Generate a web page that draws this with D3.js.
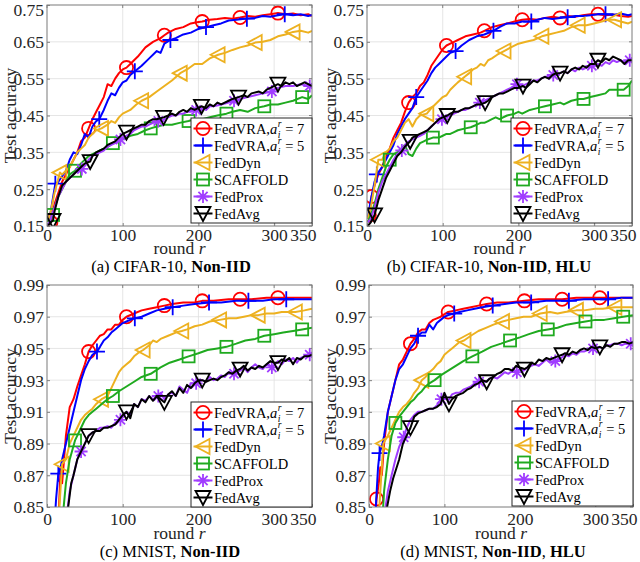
<!DOCTYPE html>
<html><head><meta charset="utf-8">
<script src="https://cdn.jsdelivr.net/npm/d3@7"></script>
<style>
body{margin:0;background:#fff}
svg{display:block}
svg text{font-family:"Liberation Serif","Times New Roman",serif}
</style>
</head><body>
<svg id="chart" width="640" height="562" font-family="Liberation Serif, Times New Roman, serif"></svg>
<script>
// ---------------- DATA ----------------
const seriesLabels = ["FedVRA7", "FedVRA5", "FedDyn", "SCAFFOLD", "FedProx", "FedAvg"];
const xTicks = [0, 100, 200, 300, 350];
const yTicksCifar = [0.15, 0.25, 0.35, 0.45, 0.55, 0.65, 0.75];
const yTicksMnist = [0.85, 0.87, 0.89, 0.91, 0.93, 0.95, 0.97, 0.99];
const captions = [
  ["(a) CIFAR-10, ", "Non-IID", ""],
  ["(b) CIFAR-10, ", "Non-IID", ", ", "HLU"],
  ["(c) MNIST, ", "Non-IID", ""],
  ["(d) MNIST, ", "Non-IID", ", ", "HLU"]
];

// (a) CIFAR-10 Non-IID : [round, accuracy]
const a_vra7 = [[1,0.15],[5,0.16],[10,0.21],[15,0.24],[20,0.27],[25,0.29],[30,0.31],[35,0.33],[40,0.35],[45,0.38],[50,0.39],[55,0.415],[60,0.44],[65,0.46],[70,0.48],[75,0.50],[80,0.535],[85,0.53],[90,0.55],[95,0.565],[100,0.575],[105,0.58],[110,0.59],[120,0.61],[130,0.635],[140,0.65],[150,0.66],[155,0.668],[160,0.675],[170,0.685],[180,0.69],[190,0.70],[198,0.703],[205,0.705],[215,0.71],[225,0.712],[235,0.715],[245,0.713],[255,0.716],[265,0.72],[275,0.718],[285,0.722],[295,0.725],[305,0.728],[315,0.725],[325,0.727],[335,0.722],[345,0.725],[350,0.72]];
const a_vra5 = [[1,0.16],[5,0.19],[11,0.265],[15,0.27],[20,0.285],[25,0.30],[30,0.33],[35,0.35],[40,0.345],[45,0.37],[50,0.40],[55,0.39],[60,0.42],[65,0.435],[69,0.44],[75,0.465],[80,0.49],[85,0.51],[90,0.505],[95,0.525],[100,0.54],[105,0.545],[110,0.56],[116,0.57],[125,0.585],[135,0.605],[145,0.625],[150,0.62],[155,0.645],[163,0.655],[170,0.66],[180,0.67],[190,0.675],[200,0.685],[210,0.69],[220,0.695],[230,0.70],[240,0.708],[250,0.71],[264,0.713],[275,0.715],[285,0.72],[295,0.718],[305,0.722],[314,0.725],[325,0.722],[335,0.725],[345,0.72],[350,0.723]];
const a_dyn = [[1,0.16],[5,0.19],[10,0.24],[17,0.295],[20,0.29],[25,0.30],[30,0.31],[35,0.33],[40,0.35],[45,0.36],[50,0.37],[55,0.39],[60,0.40],[65,0.41],[72,0.415],[80,0.425],[85,0.435],[90,0.43],[95,0.445],[100,0.455],[110,0.465],[118,0.48],[125,0.49],[135,0.50],[145,0.515],[155,0.53],[165,0.545],[176,0.565],[185,0.575],[195,0.59],[205,0.59],[215,0.605],[226,0.615],[235,0.62],[245,0.628],[255,0.635],[265,0.64],[275,0.648],[285,0.65],[295,0.655],[305,0.665],[315,0.67],[325,0.677],[335,0.68],[345,0.675],[350,0.68]];
const a_scaf = [[1,0.15],[5,0.17],[8,0.18],[10,0.20],[15,0.23],[20,0.25],[25,0.27],[30,0.29],[37,0.30],[45,0.32],[50,0.33],[55,0.34],[60,0.345],[65,0.35],[70,0.355],[80,0.365],[87,0.375],[95,0.38],[100,0.385],[110,0.395],[120,0.40],[130,0.41],[137,0.415],[145,0.42],[155,0.425],[165,0.425],[175,0.43],[187,0.435],[195,0.44],[205,0.44],[215,0.445],[225,0.45],[237,0.455],[245,0.46],[255,0.465],[265,0.46],[275,0.47],[287,0.475],[295,0.48],[305,0.48],[315,0.485],[325,0.49],[337,0.50],[345,0.495],[350,0.505]];
const a_prox = [[1,0.15],[5,0.17],[10,0.20],[15,0.23],[20,0.25],[25,0.27],[30,0.28],[35,0.29],[40,0.30],[46,0.305],[50,0.315],[55,0.33],[60,0.34],[65,0.345],[70,0.35],[75,0.355],[80,0.365],[85,0.37],[90,0.375],[97,0.385],[105,0.395],[110,0.40],[115,0.41],[120,0.415],[125,0.42],[130,0.42],[135,0.425],[140,0.43],[147,0.435],[155,0.44],[160,0.445],[165,0.45],[170,0.45],[175,0.455],[180,0.455],[185,0.46],[190,0.46],[197,0.465],[205,0.47],[210,0.465],[215,0.475],[220,0.475],[230,0.48],[240,0.485],[247,0.49],[255,0.495],[265,0.50],[275,0.505],[285,0.51],[297,0.515],[305,0.525],[315,0.53],[325,0.53],[335,0.535],[347,0.53],[350,0.53]];
const a_avg = [[1,0.15],[5,0.16],[8,0.165],[10,0.19],[15,0.23],[20,0.26],[25,0.27],[30,0.28],[35,0.29],[40,0.30],[45,0.31],[50,0.32],[57,0.325],[60,0.34],[65,0.35],[70,0.355],[75,0.36],[80,0.37],[85,0.375],[90,0.38],[95,0.39],[100,0.40],[105,0.405],[110,0.41],[115,0.415],[120,0.42],[125,0.425],[130,0.425],[135,0.435],[140,0.44],[145,0.44],[154,0.445],[160,0.45],[165,0.455],[170,0.45],[175,0.46],[180,0.465],[185,0.46],[190,0.47],[195,0.465],[204,0.475],[210,0.47],[215,0.48],[220,0.475],[225,0.485],[230,0.48],[240,0.49],[245,0.495],[253,0.50],[260,0.505],[265,0.50],[270,0.51],[280,0.515],[285,0.51],[290,0.52],[295,0.525],[305,0.535],[310,0.53],[315,0.54],[320,0.535],[325,0.54],[330,0.53],[340,0.54],[345,0.535],[350,0.53]];
const a_marks = [[5,55,105,155,205,255,305],[11,69,116,163,210,264,314],[17,72,125,176,226,275,325],[8,37,87,137,187,237,287,337],[46,97,147,197,247,297,347],[8,57,105,154,204,253,305]];

// (b) CIFAR-10 Non-IID, HLU
const b_vra7 = [[1,0.17],[3,0.18],[6,0.23],[10,0.26],[15,0.29],[20,0.31],[25,0.34],[30,0.36],[35,0.39],[40,0.41],[45,0.43],[50,0.46],[55,0.485],[60,0.50],[65,0.51],[70,0.53],[75,0.54],[80,0.56],[85,0.585],[90,0.60],[95,0.615],[100,0.63],[105,0.64],[110,0.645],[115,0.65],[120,0.655],[130,0.665],[140,0.67],[150,0.675],[155,0.68],[165,0.69],[175,0.695],[185,0.70],[195,0.705],[205,0.71],[215,0.712],[225,0.71],[235,0.715],[245,0.718],[255,0.715],[265,0.72],[275,0.718],[285,0.722],[295,0.725],[305,0.725],[315,0.722],[325,0.724],[335,0.72],[345,0.718],[350,0.72]];
const b_vra5 = [[1,0.17],[5,0.22],[10,0.27],[13,0.29],[20,0.31],[25,0.33],[30,0.35],[35,0.37],[40,0.40],[45,0.42],[50,0.44],[55,0.455],[60,0.47],[65,0.50],[70,0.515],[75,0.53],[80,0.545],[85,0.565],[90,0.58],[95,0.59],[100,0.60],[105,0.61],[110,0.62],[117,0.625],[125,0.64],[135,0.655],[145,0.665],[155,0.67],[167,0.68],[175,0.69],[185,0.70],[195,0.70],[205,0.705],[217,0.705],[225,0.71],[235,0.715],[245,0.712],[255,0.715],[265,0.717],[275,0.72],[285,0.72],[295,0.722],[305,0.725],[315,0.725],[325,0.723],[335,0.727],[345,0.722],[350,0.725]];
const b_dyn = [[1,0.17],[5,0.20],[10,0.26],[15,0.33],[20,0.33],[25,0.35],[30,0.36],[35,0.38],[40,0.39],[45,0.41],[50,0.43],[55,0.44],[60,0.42],[65,0.44],[70,0.45],[79,0.455],[85,0.47],[90,0.48],[95,0.49],[100,0.50],[105,0.505],[110,0.52],[115,0.53],[120,0.54],[129,0.555],[135,0.565],[140,0.575],[145,0.58],[150,0.59],[155,0.585],[160,0.60],[165,0.605],[172,0.615],[181,0.625],[190,0.635],[200,0.645],[210,0.65],[220,0.655],[231,0.665],[240,0.67],[250,0.675],[260,0.68],[270,0.69],[279,0.695],[290,0.695],[300,0.70],[310,0.705],[318,0.71],[327,0.71],[335,0.705],[345,0.70],[350,0.705]];
const b_scaf = [[1,0.16],[5,0.18],[10,0.21],[15,0.25],[20,0.28],[25,0.31],[30,0.33],[35,0.345],[40,0.35],[45,0.36],[50,0.37],[55,0.345],[60,0.34],[65,0.36],[70,0.375],[75,0.38],[80,0.385],[87,0.39],[95,0.39],[100,0.395],[105,0.40],[110,0.40],[115,0.405],[120,0.41],[130,0.415],[137,0.418],[145,0.425],[150,0.43],[155,0.43],[160,0.435],[165,0.44],[170,0.445],[175,0.44],[185,0.45],[195,0.455],[200,0.46],[205,0.455],[215,0.465],[225,0.47],[235,0.475],[245,0.48],[255,0.485],[260,0.48],[270,0.49],[280,0.495],[286,0.495],[295,0.50],[305,0.505],[315,0.51],[320,0.52],[330,0.52],[339,0.52],[345,0.53],[350,0.545]];
const b_prox = [[1,0.16],[5,0.17],[10,0.20],[15,0.24],[20,0.27],[25,0.29],[30,0.31],[35,0.33],[40,0.345],[46,0.355],[50,0.37],[55,0.38],[60,0.385],[65,0.39],[70,0.395],[75,0.40],[80,0.41],[85,0.42],[90,0.43],[99,0.44],[105,0.445],[110,0.45],[115,0.455],[120,0.46],[125,0.465],[130,0.465],[135,0.47],[140,0.475],[149,0.485],[155,0.49],[160,0.495],[165,0.50],[170,0.505],[175,0.51],[180,0.515],[185,0.52],[190,0.525],[198,0.535],[205,0.53],[210,0.535],[215,0.54],[220,0.545],[225,0.545],[230,0.55],[235,0.555],[240,0.555],[246,0.56],[255,0.565],[260,0.57],[265,0.565],[270,0.575],[275,0.57],[280,0.58],[285,0.575],[290,0.58],[297,0.585],[305,0.59],[310,0.585],[315,0.595],[320,0.59],[325,0.60],[330,0.595],[335,0.60],[340,0.595],[347,0.60],[350,0.60]];
const b_avg = [[1,0.15],[5,0.16],[10,0.18],[15,0.22],[20,0.25],[25,0.28],[30,0.30],[35,0.32],[40,0.34],[45,0.35],[50,0.365],[57,0.38],[60,0.39],[65,0.395],[70,0.40],[75,0.405],[80,0.41],[85,0.42],[90,0.43],[95,0.44],[100,0.445],[106,0.45],[110,0.455],[115,0.46],[120,0.46],[125,0.465],[130,0.47],[135,0.47],[140,0.475],[145,0.48],[150,0.48],[156,0.485],[160,0.49],[165,0.50],[170,0.505],[175,0.51],[180,0.51],[185,0.515],[190,0.52],[195,0.525],[200,0.525],[206,0.53],[210,0.525],[215,0.535],[220,0.545],[225,0.54],[230,0.55],[235,0.555],[240,0.55],[245,0.56],[250,0.565],[255,0.565],[260,0.57],[265,0.565],[270,0.575],[275,0.58],[280,0.575],[285,0.585],[290,0.58],[295,0.59],[300,0.59],[305,0.60],[310,0.595],[315,0.605],[320,0.60],[325,0.61],[330,0.605],[335,0.60],[340,0.59],[345,0.60],[350,0.60]];
const b_marks = [[3,6,55,105,155,205,255,305],[13,65,117,167,217,265,315],[15,79,129,181,231,279,327],[30,87,137,185,235,286,339],[46,99,149,198,246,297,347],[10,57,106,156,206,255,305]];

// (c) MNIST Non-IID
const c_vra7 = [[5,0.80],[10,0.82],[15,0.84],[18,0.875],[20,0.865],[25,0.895],[30,0.913],[35,0.918],[40,0.926],[45,0.933],[50,0.94],[55,0.948],[60,0.952],[65,0.955],[70,0.958],[75,0.959],[80,0.962],[85,0.962],[90,0.965],[95,0.965],[100,0.968],[105,0.970],[115,0.972],[125,0.974],[135,0.975],[145,0.976],[155,0.977],[165,0.978],[180,0.979],[195,0.979],[205,0.980],[220,0.980],[240,0.981],[255,0.981],[270,0.981],[290,0.982],[305,0.982],[325,0.982],[350,0.982]];
const c_vra5 = [[5,0.80],[10,0.84],[12,0.855],[15,0.871],[18,0.875],[20,0.88],[25,0.89],[30,0.90],[35,0.91],[40,0.92],[45,0.93],[50,0.937],[55,0.942],[60,0.946],[66,0.948],[70,0.951],[75,0.955],[80,0.957],[85,0.96],[90,0.962],[95,0.964],[100,0.966],[105,0.967],[110,0.968],[116,0.969],[125,0.970],[135,0.972],[145,0.974],[155,0.975],[166,0.976],[180,0.977],[195,0.978],[214,0.979],[230,0.979],[250,0.980],[266,0.980],[285,0.980],[300,0.981],[316,0.981],[335,0.981],[350,0.981]];
const c_dyn = [[10,0.80],[15,0.84],[20,0.877],[25,0.88],[30,0.89],[35,0.895],[40,0.90],[45,0.905],[50,0.908],[55,0.91],[60,0.912],[65,0.915],[72,0.918],[80,0.92],[85,0.925],[90,0.93],[95,0.935],[100,0.938],[105,0.94],[110,0.942],[115,0.945],[120,0.947],[127,0.949],[135,0.952],[140,0.955],[145,0.954],[150,0.956],[160,0.958],[170,0.96],[178,0.961],[185,0.962],[195,0.964],[205,0.965],[215,0.967],[228,0.968],[240,0.969],[250,0.969],[260,0.970],[270,0.971],[279,0.971],[290,0.972],[300,0.972],[310,0.973],[320,0.973],[328,0.973],[340,0.974],[350,0.975]];
const c_scaf = [[15,0.80],[20,0.84],[25,0.865],[30,0.88],[37,0.892],[45,0.90],[50,0.905],[55,0.908],[60,0.91],[65,0.912],[70,0.914],[75,0.916],[80,0.918],[87,0.92],[95,0.923],[105,0.926],[115,0.929],[125,0.932],[137,0.934],[150,0.938],[162,0.941],[175,0.943],[187,0.945],[200,0.947],[212,0.949],[225,0.950],[237,0.951],[250,0.953],[262,0.955],[275,0.956],[287,0.958],[300,0.959],[312,0.960],[325,0.961],[337,0.962],[350,0.963]];
const c_prox = [[20,0.80],[25,0.84],[30,0.86],[35,0.87],[40,0.88],[45,0.885],[50,0.89],[55,0.895],[60,0.897],[65,0.898],[70,0.90],[75,0.90],[80,0.901],[85,0.90],[90,0.903],[97,0.905],[100,0.907],[105,0.91],[110,0.908],[115,0.915],[120,0.913],[125,0.918],[130,0.917],[135,0.92],[140,0.918],[147,0.92],[150,0.922],[155,0.918],[160,0.921],[165,0.922],[170,0.92],[175,0.926],[180,0.924],[185,0.922],[190,0.928],[197,0.928],[205,0.93],[210,0.929],[215,0.932],[220,0.93],[225,0.931],[230,0.933],[235,0.932],[240,0.935],[247,0.934],[255,0.936],[260,0.938],[265,0.935],[270,0.938],[275,0.94],[280,0.938],[285,0.937],[290,0.94],[297,0.938],[305,0.942],[310,0.94],[315,0.943],[320,0.942],[325,0.944],[330,0.941],[335,0.944],[340,0.945],[347,0.946],[350,0.947]];
const c_avg = [[25,0.80],[28,0.85],[32,0.865],[35,0.87],[40,0.88],[45,0.885],[50,0.89],[55,0.895],[60,0.897],[65,0.898],[70,0.898],[75,0.90],[80,0.90],[85,0.901],[90,0.902],[95,0.905],[100,0.908],[105,0.91],[110,0.906],[115,0.915],[120,0.913],[125,0.918],[130,0.916],[135,0.92],[140,0.917],[145,0.92],[150,0.918],[155,0.916],[160,0.921],[165,0.923],[170,0.92],[175,0.925],[180,0.922],[185,0.927],[190,0.925],[195,0.928],[200,0.93],[205,0.93],[210,0.929],[215,0.93],[220,0.931],[225,0.93],[230,0.932],[235,0.933],[240,0.935],[245,0.934],[250,0.936],[255,0.937],[260,0.939],[265,0.936],[270,0.938],[275,0.937],[280,0.939],[285,0.938],[290,0.94],[295,0.942],[300,0.941],[305,0.941],[310,0.943],[315,0.942],[320,0.944],[325,0.94],[330,0.944],[335,0.943],[340,0.945],[345,0.945],[350,0.946]];
const c_marks = [[5,55,105,155,205,255,305],[15,66,116,166,214,266,316],[20,72,127,178,228,279,328],[37,87,137,187,237,287,337],[45,97,147,197,247,297,347],[55,105,155,205,255,305]];

// (d) MNIST Non-IID, HLU
const d_vra7 = [[5,0.80],[8,0.84],[10,0.855],[13,0.865],[15,0.875],[17,0.87],[20,0.89],[25,0.91],[30,0.92],[35,0.93],[40,0.94],[45,0.943],[50,0.948],[55,0.953],[60,0.956],[65,0.96],[70,0.962],[75,0.962],[80,0.966],[85,0.968],[90,0.969],[95,0.97],[105,0.973],[115,0.974],[125,0.975],[135,0.976],[145,0.977],[156,0.978],[170,0.979],[185,0.979],[206,0.980],[225,0.981],[240,0.981],[256,0.981],[275,0.982],[290,0.982],[306,0.982],[325,0.982],[340,0.982],[350,0.982]];
const d_vra5 = [[5,0.80],[9,0.85],[12,0.875],[14,0.884],[18,0.89],[20,0.895],[25,0.91],[30,0.92],[35,0.93],[40,0.937],[45,0.94],[50,0.945],[55,0.95],[60,0.953],[65,0.958],[70,0.96],[75,0.96],[80,0.965],[85,0.962],[90,0.966],[95,0.968],[100,0.97],[105,0.971],[113,0.972],[120,0.973],[130,0.974],[140,0.975],[150,0.976],[164,0.977],[180,0.978],[195,0.979],[215,0.979],[235,0.980],[250,0.980],[265,0.980],[285,0.981],[300,0.981],[317,0.981],[335,0.982],[350,0.982]];
const d_dyn = [[10,0.82],[15,0.86],[19,0.89],[25,0.895],[30,0.90],[35,0.905],[40,0.91],[45,0.913],[50,0.915],[55,0.918],[60,0.922],[65,0.925],[70,0.93],[75,0.932],[80,0.935],[85,0.937],[90,0.94],[95,0.942],[100,0.946],[105,0.948],[110,0.95],[115,0.952],[120,0.954],[126,0.955],[135,0.958],[145,0.961],[155,0.963],[165,0.965],[177,0.967],[185,0.968],[195,0.969],[205,0.97],[215,0.97],[227,0.972],[240,0.973],[250,0.972],[260,0.973],[275,0.974],[285,0.974],[300,0.975],[310,0.975],[326,0.976],[340,0.976],[350,0.976]];
const d_scaf = [[15,0.82],[20,0.86],[25,0.88],[30,0.895],[35,0.903],[40,0.907],[45,0.91],[50,0.913],[55,0.916],[60,0.918],[65,0.921],[70,0.923],[75,0.926],[80,0.928],[87,0.93],[95,0.933],[105,0.936],[115,0.939],[125,0.942],[137,0.945],[150,0.948],[162,0.951],[175,0.953],[187,0.955],[200,0.957],[212,0.959],[225,0.961],[237,0.962],[250,0.963],[262,0.965],[275,0.966],[287,0.967],[300,0.968],[312,0.968],[325,0.969],[337,0.97],[350,0.971]];
const d_prox = [[18,0.80],[22,0.85],[25,0.86],[30,0.87],[35,0.88],[40,0.888],[46,0.894],[50,0.90],[55,0.905],[60,0.908],[65,0.91],[70,0.91],[75,0.911],[80,0.912],[85,0.912],[90,0.914],[96,0.918],[100,0.919],[105,0.917],[110,0.921],[115,0.922],[120,0.922],[125,0.924],[130,0.925],[135,0.926],[140,0.928],[146,0.929],[150,0.93],[155,0.929],[160,0.931],[165,0.932],[170,0.931],[175,0.933],[180,0.935],[185,0.934],[190,0.936],[196,0.935],[200,0.937],[205,0.936],[210,0.938],[215,0.939],[220,0.94],[225,0.939],[230,0.941],[235,0.943],[240,0.941],[247,0.942],[255,0.944],[260,0.946],[265,0.945],[270,0.947],[275,0.946],[280,0.948],[285,0.948],[290,0.949],[297,0.95],[305,0.951],[310,0.95],[315,0.952],[320,0.952],[325,0.953],[330,0.953],[335,0.952],[340,0.953],[347,0.953],[350,0.954]];
const d_avg = [[20,0.80],[24,0.85],[28,0.86],[32,0.868],[36,0.874],[40,0.88],[45,0.89],[50,0.895],[55,0.90],[60,0.907],[65,0.909],[70,0.91],[75,0.911],[80,0.912],[85,0.912],[90,0.913],[95,0.915],[100,0.922],[106,0.915],[110,0.918],[115,0.92],[120,0.921],[125,0.922],[130,0.924],[135,0.925],[140,0.927],[145,0.928],[150,0.93],[156,0.929],[160,0.931],[165,0.932],[170,0.934],[175,0.935],[180,0.937],[185,0.937],[190,0.936],[195,0.939],[200,0.938],[206,0.937],[210,0.938],[215,0.941],[220,0.94],[225,0.943],[230,0.942],[235,0.944],[240,0.943],[245,0.944],[250,0.945],[256,0.946],[260,0.947],[265,0.946],[270,0.948],[275,0.947],[280,0.949],[285,0.95],[290,0.949],[295,0.951],[300,0.95],[306,0.951],[310,0.95],[315,0.952],[320,0.951],[325,0.953],[330,0.953],[335,0.954],[340,0.954],[345,0.953],[350,0.954]];
const d_marks = [[10,55,105,156,206,256,306],[14,65,113,164,215,265,317],[19,70,126,177,227,275,326],[35,87,137,187,237,287,337],[46,96,146,196,247,297,347],[55,106,156,206,256,306]];

// ---------------- STYLE / LAYOUT ----------------
const colors = ["#ff0000", "#0000ff", "#edb120", "#1faa1f", "#a03cff", "#000000"];
const symbols = ["circle", "plus", "tleft", "square", "star", "tdown"];
const FONT = 'Liberation Serif, Times New Roman, serif';

const panels = [
  {series:[a_vra7,a_vra5,a_dyn,a_scaf,a_prox,a_avg], marks:a_marks, yticks:yTicksCifar, ydom:[0.15,0.75],
   L:47, R:312, T:5, B:226, ylabX:16, tickBase:241, xlabBase:254, capBase:272, capX:171, leg:[191,118]},
  {series:[b_vra7,b_vra5,b_dyn,b_scaf,b_prox,b_avg], marks:b_marks, yticks:yTicksCifar, ydom:[0.15,0.75],
   L:367, R:632, T:5, B:226, ylabX:336, tickBase:241, xlabBase:254, capBase:272, capX:489, leg:[511,118]},
  {series:[c_vra7,c_vra5,c_dyn,c_scaf,c_prox,c_avg], marks:c_marks, yticks:yTicksMnist, ydom:[0.85,0.99],
   L:47, R:312, T:285, B:507, ylabX:16, tickBase:525, xlabBase:539, capBase:557, capX:170, leg:[191,402]},
  {series:[d_vra7,d_vra5,d_dyn,d_scaf,d_prox,d_avg], marks:d_marks, yticks:yTicksMnist, ydom:[0.85,0.99],
   L:369, R:633, T:285, B:507, ylabX:336, tickBase:525, xlabBase:539, capBase:557, capX:493, leg:[512,401]}
];

const svg = d3.select("#chart");
svg.append("rect").attr("width",640).attr("height",562).attr("fill","#fff");

function txt(sel, size) {
  return sel.append("text").attr("font-family",FONT).attr("font-size",size);
}

function drawSymbol(g, type, x, y, color) {
  const s = g.append("g").attr("transform", `translate(${x},${y})`)
    .attr("fill","none").attr("stroke",color).attr("stroke-width",1.8);
  if (type === "circle") s.append("circle").attr("r",6.6);
  else if (type === "plus") s.append("path").attr("d","M-8,0H8M0,-8V8");
  else if (type === "tleft") s.append("path").attr("d","M-7.5,0L6.5,-7.5L6.5,7.5Z");
  else if (type === "square") s.append("rect").attr("x",-6).attr("y",-6).attr("width",12).attr("height",12);
  else if (type === "star") {
    const r = 6.5, q = r*Math.SQRT1_2;
    s.append("path").attr("d",`M${-r},0H${r}M0,${-r}V${r}M${-q},${-q}L${q},${q}M${-q},${q}L${q},${-q}`);
  }
  else if (type === "tdown") s.append("path").attr("d","M-7.5,-6.5L7.5,-6.5L0,7.5Z");
}

panels.forEach((p, pi) => {
  const x = d3.scaleLinear().domain([0,350]).range([p.L,p.R]);
  const y = d3.scaleLinear().domain(p.ydom).range([p.B,p.T]);
  const g = svg.append("g");

  // grid
  g.append("g").selectAll("line").data(xTicks.slice(1,-1)).join("line")
    .attr("x1",d=>x(d)).attr("x2",d=>x(d)).attr("y1",p.T).attr("y2",p.B)
    .attr("stroke","#dedede").attr("stroke-width",0.8);
  g.append("g").selectAll("line").data(p.yticks.slice(1,-1)).join("line")
    .attr("x1",p.L).attr("x2",p.R).attr("y1",d=>y(d)).attr("y2",d=>y(d))
    .attr("stroke","#dedede").attr("stroke-width",0.8);

  // axes via d3 (ticks inward)
  const ax = g.append("g").attr("transform",`translate(0,${p.B})`)
    .call(d3.axisBottom(x).tickValues(xTicks).tickSize(-3).tickFormat(d3.format("d")));
  const ay = g.append("g").attr("transform",`translate(${p.L},0)`)
    .call(d3.axisLeft(y).tickValues(p.yticks).tickSize(-3).tickFormat(d3.format(".2f")));
  [ax, ay].forEach(a => {
    a.attr("font-family",FONT).attr("font-size",17.5);
    a.select(".domain").remove();
    a.selectAll(".tick line").attr("stroke","#666").attr("stroke-width",0.8);
    a.selectAll(".tick text").attr("fill","#262626");
  });
  ax.selectAll(".tick text").attr("dy", null).attr("y", p.tickBase - p.B);
  ax.selectAll(".tick").filter(d=>d===350).select("text").attr("text-anchor","end").attr("x",4);
  ay.selectAll(".tick text").attr("dy","0.34em").attr("x",-3);
  if (p.T < 10) ay.selectAll(".tick").filter(d=>d===p.ydom[1]).select("text").attr("dy","0.62em");
  // top/right ticks
  g.append("g").selectAll("line").data(xTicks).join("line")
    .attr("x1",d=>x(d)).attr("x2",d=>x(d)).attr("y1",p.T).attr("y2",p.T+3).attr("stroke","#666").attr("stroke-width",0.8);
  g.append("g").selectAll("line").data(p.yticks).join("line")
    .attr("x1",p.R).attr("x2",p.R-3).attr("y1",d=>y(d)).attr("y2",d=>y(d)).attr("stroke","#666").attr("stroke-width",0.8);

  // clip
  const cid = "clip"+pi;
  svg.append("clipPath").attr("id",cid).append("rect")
    .attr("x",p.L).attr("y",p.T).attr("width",p.R-p.L).attr("height",p.B-p.T);
  const plot = g.append("g").attr("clip-path",`url(#${cid})`);
  const line = d3.line().x(d=>x(d[0])).y(d=>y(d[1]));

  p.series.forEach((ser, si) => {
    plot.append("path").datum(ser).attr("d",line).attr("fill","none")
      .attr("stroke",colors[si]).attr("stroke-width",2).attr("stroke-linejoin","round");
    p.marks[si].forEach(r => {
      const pt = ser.reduce((best,d)=> Math.abs(d[0]-r) < Math.abs(best[0]-r) ? d : best, ser[0]);
      drawSymbol(plot, symbols[si], x(pt[0]), y(pt[1]), colors[si]);
    });
  });

  // frame
  g.append("rect").attr("x",p.L).attr("y",p.T).attr("width",p.R-p.L).attr("height",p.B-p.T)
    .attr("fill","none").attr("stroke","#7a7a7a").attr("stroke-width",1);

  // labels
  txt(svg, 17.5).attr("transform",`translate(${p.ylabX},${(p.T+p.B)/2}) rotate(-90)`)
    .attr("text-anchor","middle").attr("fill","#262626").text("Test accuracy");
  const xl = txt(svg, 17.5).attr("x",(p.L+p.R)/2).attr("y",p.xlabBase)
    .attr("text-anchor","middle").attr("fill","#262626");
  xl.append("tspan").text("round ");
  xl.append("tspan").attr("font-style","italic").text("r");

  const cap = txt(svg, 16.5).attr("x",p.capX).attr("y",p.capBase)
    .attr("text-anchor","middle").attr("fill","#000");
  captions[pi].forEach((t,i)=>{
    cap.append("tspan").attr("font-weight", i%2===1 ? "bold" : "normal").text(t);
  });

  // legend
  const [lx, ly] = p.leg;
  const lw = 121, lh = 105;
  const lg = svg.append("g");
  lg.append("rect").attr("x",lx).attr("y",ly).attr("width",lw).attr("height",lh)
    .attr("fill","#fff").attr("stroke","#262626").attr("stroke-width",1);
  seriesLabels.forEach((name, si) => {
    const cy = ly + 10.5 + si*17;
    lg.append("line").attr("x1",lx+2.5).attr("x2",lx+21.5).attr("y1",cy).attr("y2",cy)
      .attr("stroke",colors[si]).attr("stroke-width",2);
    drawSymbol(lg, symbols[si], lx+12, cy, colors[si]);
    const tx = lx + 23, ty = cy + 5;
    if (si < 2) {
      const t1 = txt(lg, 14.5).attr("x",tx).attr("y",ty).attr("fill","#000");
      t1.append("tspan").text("FedVRA,");
      t1.append("tspan").attr("font-style","italic").text("a");
      const w = t1.node().getComputedTextLength();
      txt(lg, 9.5).attr("x",tx+w+0.5).attr("y",ty-6.8).attr("font-style","italic").text("r");
      txt(lg, 9.5).attr("x",tx+w+0.5).attr("y",ty+4).attr("font-style","italic").text("i");
      txt(lg, 14.5).attr("x",tx+w+8).attr("y",ty).attr("fill","#000")
        .text("= " + (si===0 ? "7" : "5"));
    } else {
      txt(lg, 14.5).attr("x",tx).attr("y",ty).attr("fill","#000").text(name);
    }
  });
});
</script>
</body></html>
